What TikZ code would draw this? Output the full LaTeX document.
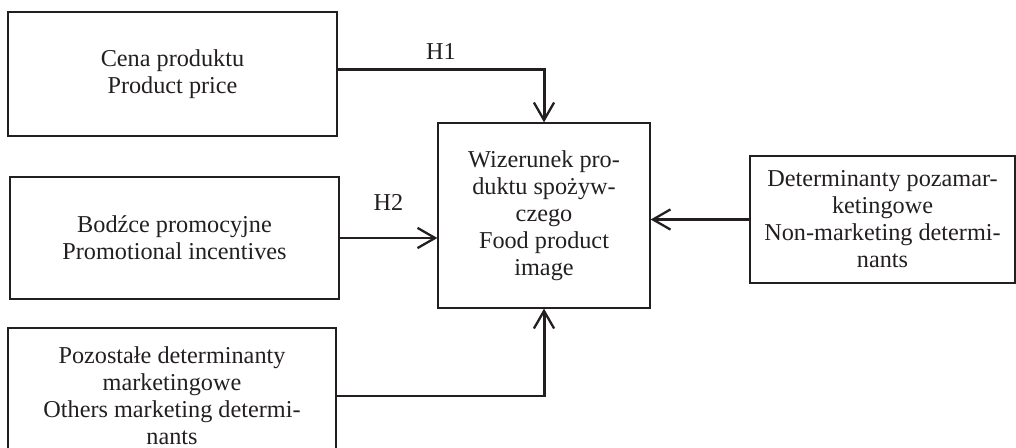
\documentclass[tikz,border=0pt]{standalone}
\usepackage{fontspec}
\setmainfont{Liberation Serif}
\usetikzlibrary{arrows.meta}
\definecolor{ink}{RGB}{35,31,32}
\begin{document}
\begin{tikzpicture}
	[x=0.02cm, y=-0.02cm,
	box/.style={draw=ink, line width=0.75pt, text=ink, align=center, inner sep=0pt,
		font=\fontsize{13.8}{15.4}\selectfont},
	link/.style={draw=ink, line width=1.7pt, -{Straight Barb[length=10pt,width=11.5pt,line width=1.3pt]}},
	hyp/.style={text=ink, font=\fontsize{13.8}{15.4}\selectfont, inner sep=0pt}]

	\useasboundingbox (0,0) rectangle (1016,448);

	% Draw boxes
	\node[box, minimum width=6.58cm, minimum height=2.48cm] (cena) at (172.5,74)
		{Cena produktu\\Product price};
	\node[box, minimum width=6.58cm, minimum height=2.44cm] (bodzce) at (174.5,238)
		{Bodźce promocyjne\\Promotional incentives};
	\node[box, minimum width=6.56cm, minimum height=2.72cm] (pozostale) at (172,396)
		{Pozostałe determinanty\\marketingowe\\Others marketing determi-\\nants};
	\node[box, minimum width=4.24cm, minimum height=3.70cm] (obraz) at (544,215.5)
		{Wizerunek pro-\\duktu spożyw-\\czego\\Food product\\image};
	\node[box, minimum width=5.30cm, minimum height=2.54cm] (poza) at (882.5,219.5)
		{Determinanty pozamar-\\ketingowe\\Non-marketing determi-\\nants};

	% Draw arrows
	\draw[link] ([yshift=2.3pt]cena.east) -| node[hyp, pos=0.25, anchor=south, yshift=5pt] (h1) {H1} (obraz.north);
	\draw[link] (bodzce.east) -- node[hyp, anchor=south, yshift=15pt] (h2) {H2} (bodzce.east -| obraz.west);
	\draw[link] (pozostale.east) -| (obraz.south);
	\draw[link] (poza.west) -- (poza.west -| obraz.east);

\end{tikzpicture}
\end{document}
